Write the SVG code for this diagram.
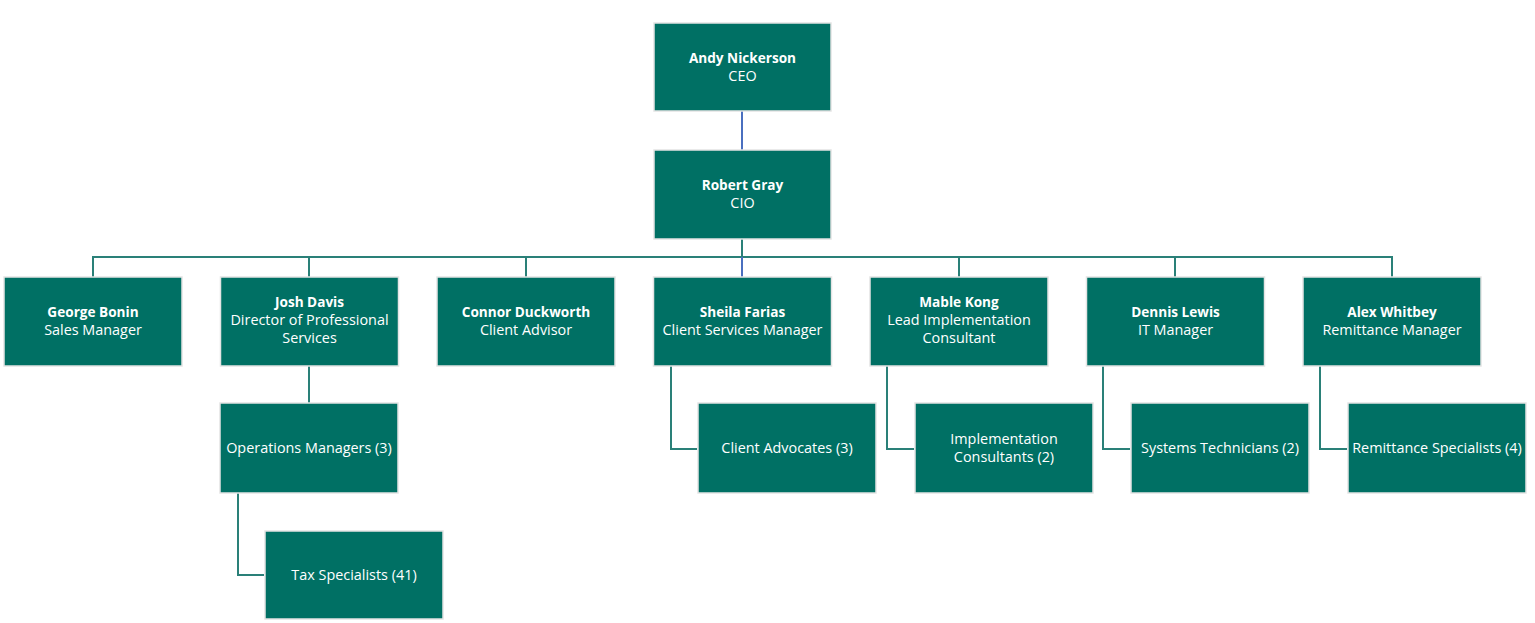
<svg xmlns="http://www.w3.org/2000/svg" width="1535" height="623" viewBox="0 0 1535 623">
<style>
.box{fill:#007064;stroke:#e4e4e4;stroke-width:1.5}
text{font-family:"Open Sans","Liberation Sans",sans-serif;font-size:14.4px;fill:#ffffff;text-anchor:middle}
.b{font-weight:bold;font-size:13.6px}
.ln{fill:none;stroke:#2a8078;stroke-width:2}
.bl{fill:none;stroke:#4a6fbf;stroke-width:2}
</style>
<rect width="1535" height="623" fill="#ffffff"/>
<g id="connectors">
<path class="bl" d="M742 111V150"/>
<path class="ln" d="M742 239V257M93 277V257H1392V277M309 257V277M526 257V277M959 257V277M1175 257V277"/>
<path class="bl" d="M742 257V277"/>
<path class="ln" d="M309 366V403"/>
<path class="ln" d="M238 493V575H264"/>
<path class="ln" d="M671 366V449H697"/>
<path class="ln" d="M887 366V449H914"/>
<path class="ln" d="M1103 366V449H1130"/>
<path class="ln" d="M1320 366V449H1347"/>
</g>
<g id="ceo"><rect class="box" x="654" y="23" width="177" height="88"/><text class="b" x="742.5" y="63">Andy Nickerson</text><text x="742.5" y="81">CEO</text></g>
<g id="cio"><rect class="box" x="654" y="150" width="177" height="89"/><text class="b" x="742.5" y="190">Robert Gray</text><text x="742.5" y="208">CIO</text></g>
<g id="george"><rect class="box" x="4" y="277" width="178" height="89"/><text class="b" x="93" y="317">George Bonin</text><text x="93" y="335">Sales Manager</text></g>
<g id="josh"><rect class="box" x="220.5" y="277" width="178" height="89"/><text class="b" x="309.5" y="307">Josh Davis</text><text x="309.5" y="325">Director of Professional</text><text x="309.5" y="343">Services</text></g>
<g id="connor"><rect class="box" x="437" y="277" width="178" height="89"/><text class="b" x="526" y="317">Connor Duckworth</text><text x="526" y="335">Client Advisor</text></g>
<g id="sheila"><rect class="box" x="653.5" y="277" width="178" height="89"/><text class="b" x="742.5" y="317">Sheila Farias</text><text x="742.5" y="335">Client Services Manager</text></g>
<g id="mable"><rect class="box" x="870" y="277" width="178" height="89"/><text class="b" x="959" y="307">Mable Kong</text><text x="959" y="325">Lead Implementation</text><text x="959" y="343">Consultant</text></g>
<g id="dennis"><rect class="box" x="1086.5" y="277" width="178" height="89"/><text class="b" x="1175.5" y="317">Dennis Lewis</text><text x="1175.5" y="335">IT Manager</text></g>
<g id="alex"><rect class="box" x="1303" y="277" width="178" height="89"/><text class="b" x="1392" y="317">Alex Whitbey</text><text x="1392" y="335">Remittance Manager</text></g>
<g id="ops"><rect class="box" x="220" y="403" width="178" height="90"/><text x="309" y="453">Operations Managers (3)</text></g>
<g id="tax"><rect class="box" x="265" y="531" width="178" height="88"/><text x="354" y="580">Tax Specialists (41)</text></g>
<g id="advocates"><rect class="box" x="698" y="403" width="178" height="90"/><text x="787" y="453">Client Advocates (3)</text></g>
<g id="implementation"><rect class="box" x="915" y="403" width="178" height="90"/><text x="1004" y="444">Implementation</text><text x="1004" y="462">Consultants (2)</text></g>
<g id="systems"><rect class="box" x="1131" y="403" width="178" height="90"/><text x="1220" y="453">Systems Technicians (2)</text></g>
<g id="remittance"><rect class="box" x="1348" y="403" width="178" height="90"/><text x="1437" y="453">Remittance Specialists (4)</text></g>
</svg>
